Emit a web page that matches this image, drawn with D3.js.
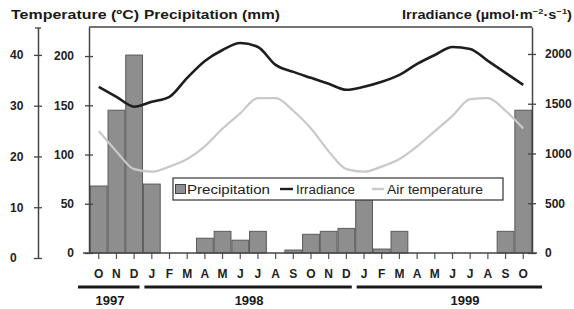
<!DOCTYPE html>
<html>
<head>
<meta charset="utf-8">
<script src="https://cdn.jsdelivr.net/npm/d3@7"></script>
<style>
  body { margin: 0; background: #fff; }
  svg { display: block; font-family: 'Liberation Sans', Arial, sans-serif; }
</style>
</head>
<body>
<div id="chart-area"></div>
<script>
// monthly data, Oct 1997 - Oct 1999
const months = ['O','N','D','J','F','M','A','M','J','J','A','S','O','N','D','J','F','M','A','M','J','J','A','S','O'];
const precipitation = [68, 145, 201, 70, 0, 0, 15, 22, 13, 22, 0, 3, 19, 22, 25, 56, 4, 22, 0, 0, 0, 0, 0, 22, 145];
const irradiance = [1670, 1570, 1470, 1520, 1570, 1760, 1930, 2040, 2110, 2070, 1890, 1820, 1760, 1700, 1640, 1670, 1720, 1790, 1900, 1990, 2070, 2050, 1930, 1810, 1690];
const temperature = [25, 21, 17.5, 17, 18, 19.5, 22, 25.5, 28.5, 31.5, 31.5, 29, 25.5, 21, 17.5, 17, 18, 19.5, 22, 25, 28, 31.3, 31.5, 29, 25.5];

const years = ['1997', '1998', '1999'];
const yearFirst = [0, 3, 15];
const yearLast = [2, 14, 24];

const tempTicks = [0, 10, 20, 30, 40];
const precipTicks = [0, 50, 100, 150, 200];
const irrTicks = [0, 500, 1000, 1500, 2000];

const width = 574;
const height = 309;
const plot = { left: 89, right: 532, top: 27, bottom: 253 };

const svg = d3.select('#chart-area').append('svg')
  .attr('width', width)
  .attr('height', height);

const x = d3.scaleBand()
  .domain(d3.range(months.length))
  .range([90, plot.right])
  .paddingInner(0.05)
  .paddingOuter(0.02);
const xc = i => x(i) + x.bandwidth() / 2;

const yTemp = d3.scaleLinear().domain([0, 45.5]).range([258, plot.top]);
const yPrec = d3.scaleLinear().domain([0, 229.5]).range([plot.bottom, plot.top]);
const yIrr = d3.scaleLinear().domain([0, 2271]).range([plot.bottom, plot.top]);

// bars
svg.append('g').selectAll('rect')
  .data(precipitation)
  .enter().append('rect')
    .attr('x', (d, i) => x(i))
    .attr('y', d => yPrec(d))
    .attr('width', x.bandwidth())
    .attr('height', d => plot.bottom - yPrec(d))
    .attr('fill', '#8e8e8e')
    .attr('stroke', '#5a5a5a')
    .attr('stroke-width', 1);

// lines
const lineIrr = d3.line()
  .x((d, i) => xc(i))
  .y(d => yIrr(d))
  .curve(d3.curveMonotoneX);
const lineTemp = d3.line()
  .x((d, i) => xc(i))
  .y(d => yTemp(d))
  .curve(d3.curveMonotoneX);

svg.append('path')
  .datum(temperature)
  .attr('d', lineTemp)
  .attr('fill', 'none')
  .attr('stroke', '#c9c9c9')
  .attr('stroke-width', 2.2);

svg.append('path')
  .datum(irradiance)
  .attr('d', lineIrr)
  .attr('fill', 'none')
  .attr('stroke', '#1e1e1e')
  .attr('stroke-width', 2.6);

// frame top
svg.append('line')
  .attr('x1', plot.left).attr('x2', plot.right)
  .attr('y1', plot.top).attr('y2', plot.top)
  .attr('stroke', '#444').attr('stroke-width', 1.5);

const styleAxis = (g, anchor, dx) => {
  g.attr('font-size', null).attr('font-family', null);
  g.select('.domain').attr('stroke', '#444').attr('stroke-width', 1.5);
  g.selectAll('.tick line').attr('x1', -4).attr('x2', 4).attr('stroke', '#444').attr('stroke-width', 1.3);
  g.selectAll('.tick text')
    .attr('x', dx)
    .attr('text-anchor', anchor)
    .attr('font-size', '12px')
    .attr('font-weight', 'bold')
    .attr('fill', '#222');
};

const axisTemp = svg.append('g')
  .attr('transform', 'translate(38,0)')
  .call(d3.axisLeft(yTemp).tickValues(tempTicks).tickSizeOuter(0));
styleAxis(axisTemp, 'start', -28);
axisTemp.append('line')
  .attr('x1', -3).attr('x2', 3)
  .attr('y1', plot.top + 1).attr('y2', plot.top + 1)
  .attr('stroke', '#444').attr('stroke-width', 1.3);

const axisPrec = svg.append('g')
  .attr('transform', `translate(${plot.left},0)`)
  .call(d3.axisLeft(yPrec).tickValues(precipTicks).tickSizeOuter(0));
styleAxis(axisPrec, 'end', -15);

const axisIrr = svg.append('g')
  .attr('transform', `translate(${plot.right},0)`)
  .call(d3.axisRight(yIrr).tickValues(irrTicks).tickFormat(d3.format('d')).tickSizeOuter(0));
styleAxis(axisIrr, 'start', 13);

// x axis
const axisX = svg.append('g')
  .attr('transform', `translate(0,${plot.bottom})`)
  .call(d3.axisBottom(x).tickFormat(i => months[i]).tickSize(6).tickPadding(10).tickSizeOuter(0));
axisX.attr('font-size', null).attr('font-family', null);
axisX.select('.domain').remove();
axisX.selectAll('.tick line').attr('stroke', '#555').attr('stroke-width', 1.2);
axisX.selectAll('.tick text')
  .attr('font-size', '12px')
  .attr('font-weight', 'bold')
  .attr('fill', '#222');
svg.append('line')
  .attr('x1', 83).attr('x2', 537)
  .attr('y1', plot.bottom).attr('y2', plot.bottom)
  .attr('stroke', '#444').attr('stroke-width', 1.5);

// year brackets
const yearG = svg.append('g').selectAll('g')
  .data(years)
  .enter().append('g');
yearG.append('line')
  .attr('x1', (d, i) => i === 0 ? 78 : x(yearFirst[i]) + 1)
  .attr('x2', (d, i) => i === years.length - 1 ? 542 : x(yearLast[i]) + x.bandwidth() - 3)
  .attr('y1', 287).attr('y2', 287)
  .attr('stroke', '#1a1a1a')
  .attr('stroke-width', 3);
yearG.append('text')
  .text(d => d)
  .attr('x', (d, i) => i === 0 ? 110 : (i === years.length - 1 ? 465 : (x(yearFirst[i]) + x(yearLast[i]) + x.bandwidth()) / 2))
  .attr('y', 305)
  .attr('text-anchor', 'middle')
  .attr('font-size', '13px')
  .attr('font-weight', 'bold')
  .attr('fill', '#1a1a1a');

// titles
const title = (txt, x0, len) => svg.append('text')
  .text(txt)
  .attr('x', x0)
  .attr('y', 19)
  .attr('font-size', '12.5px')
  .attr('font-weight', 'bold')
  .attr('fill', '#1a1a1a')
  .attr('textLength', len)
  .attr('lengthAdjust', 'spacingAndGlyphs');
title('Temperature (ºC)', 11, 128);
title('Precipitation (mm)', 144, 136);
const irrTitle = svg.append('text')
  .attr('x', 402)
  .attr('y', 19)
  .attr('font-size', '12.5px')
  .attr('font-weight', 'bold')
  .attr('fill', '#1a1a1a')
  .attr('textLength', 170)
  .attr('lengthAdjust', 'spacingAndGlyphs');
irrTitle.append('tspan').text('Irradiance (µmol·m');
irrTitle.append('tspan').text('−2').attr('font-size', '8px').attr('dy', -5);
irrTitle.append('tspan').text('·s').attr('dy', 5);
irrTitle.append('tspan').text('−1').attr('font-size', '8px').attr('dy', -5);
irrTitle.append('tspan').text(')').attr('dy', 5);

// legend
const legend = svg.append('g');
legend.append('rect')
  .attr('x', 173).attr('y', 178)
  .attr('width', 330).attr('height', 22)
  .attr('fill', '#fff')
  .attr('stroke', '#333')
  .attr('stroke-width', 1.2);
legend.append('rect')
  .attr('x', 175.5).attr('y', 184.5)
  .attr('width', 10).attr('height', 9)
  .attr('fill', '#8e8e8e')
  .attr('stroke', '#444');
legend.append('line')
  .attr('x1', 280).attr('x2', 293).attr('y1', 189).attr('y2', 189)
  .attr('stroke', '#1e1e1e').attr('stroke-width', 2.4);
legend.append('line')
  .attr('x1', 372).attr('x2', 384).attr('y1', 189).attr('y2', 189)
  .attr('stroke', '#c9c9c9').attr('stroke-width', 2.4);
const legendText = [['Precipitation', 187, 83], ['Irradiance', 296, 59], ['Air temperature', 387, 96]];
legend.selectAll('text.item')
  .data(legendText)
  .enter().append('text')
    .attr('class', 'item')
    .text(d => d[0])
    .attr('x', d => d[1])
    .attr('y', 193.5)
    .attr('font-size', '12.5px')
    .attr('fill', '#222')
    .attr('textLength', d => d[2])
    .attr('lengthAdjust', 'spacingAndGlyphs');
</script>
</body>
</html>
